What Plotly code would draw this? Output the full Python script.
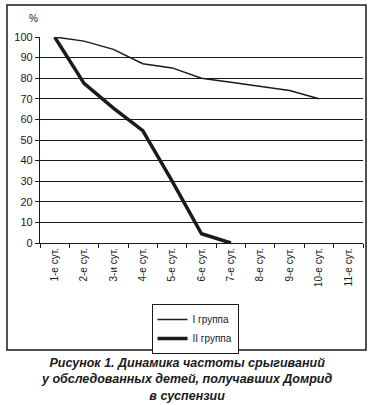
import plotly.graph_objects as go

categories = ["1-е сут.", "2-е сут.", "3-и сут.", "4-е сут.", "5-е сут.", "6-е сут.",
              "7-е сут.", "8-е сут.", "9-е сут.", "10-е сут.", "11-е сут."]
group1 = [100, 98, 94, 87, 85, 80, 78, 76, 74, 70, None]
group2 = [100, 77.5, 65.5, 54.5, 30, 4.5, 0, None, None, None, None]
y_ticks = [0, 10, 20, 30, 40, 50, 60, 70, 80, 90, 100]
names = ["I группа", "II группа"]

W, H = 374, 405
L, R, T, B = 40, 11, 37, 162
PW, PH = W - L - R, H - T - B
ink = "#1a1a1a"
font = "Liberation Sans, Arial, sans-serif"


def px(x):
    return (x - L) / PW


def py(y):
    return (H - B - y) / PH


fig = go.Figure()
fig.add_trace(go.Scatter(x=categories, y=group1, mode="lines", name=names[0],
                         line=dict(color=ink, width=1.5), cliponaxis=False))
fig.add_trace(go.Scatter(x=categories, y=group2, mode="lines", name=names[1],
                         line=dict(color=ink, width=3.5), cliponaxis=False))

fig.update_layout(
    width=W, height=H,
    margin=dict(l=L, r=R, t=T, b=B, autoexpand=False),
    paper_bgcolor="white", plot_bgcolor="white",
    font=dict(family=font, color=ink, size=11),
    showlegend=True,
    legend=dict(
        x=px(195), y=py(304), xanchor="center", yanchor="top",
        bordercolor=ink, borderwidth=1, bgcolor="white",
        font=dict(size=10, family=font, color=ink),
        itemwidth=30, tracegroupgap=0,
    ),
    xaxis=dict(
        type="category", categoryorder="array", categoryarray=categories,
        range=[-0.5, len(categories) - 0.5],
        tickangle=-90, tickfont=dict(size=10),
        showline=True, linecolor=ink, linewidth=1.2,
        ticks="outside", ticklen=4, tickcolor=ink, tickson="boundaries",
        showgrid=False, zeroline=False, automargin=False,
    ),
    yaxis=dict(
        range=[0, 100], tickvals=y_ticks,
        showline=True, linecolor=ink, linewidth=1.2,
        ticks="outside", ticklen=4, tickcolor=ink,
        showgrid=True, gridcolor=ink, gridwidth=1,
        zeroline=False, tickfont=dict(size=11), automargin=False,
    ),
    annotations=[
        dict(text="%", xref="paper", yref="paper", x=px(33), y=py(18),
             showarrow=False, font=dict(size=10, family=font, color=ink),
             xanchor="center", yanchor="middle"),
        dict(text="<b><i>Рисунок 1. Динамика частоты срыгиваний<br>у обследованных детей, получавших Домрид<br>в суспензии</i></b>",
             xref="paper", yref="paper", x=px(187), xanchor="center",
             y=py(354), yanchor="top",
             showarrow=False, align="center",
             font=dict(size=12.5, family=font, color=ink)),
    ],
    shapes=[
        dict(type="rect", xref="paper", yref="paper",
             x0=px(7), x1=px(366), y0=py(350), y1=py(5),
             line=dict(color=ink, width=1.5), layer="below"),
    ],
)

fig.write_html("out.html", config={"displayModeBar": False},
               post_script="document.body.style.margin='0';document.body.style.padding='0';")
